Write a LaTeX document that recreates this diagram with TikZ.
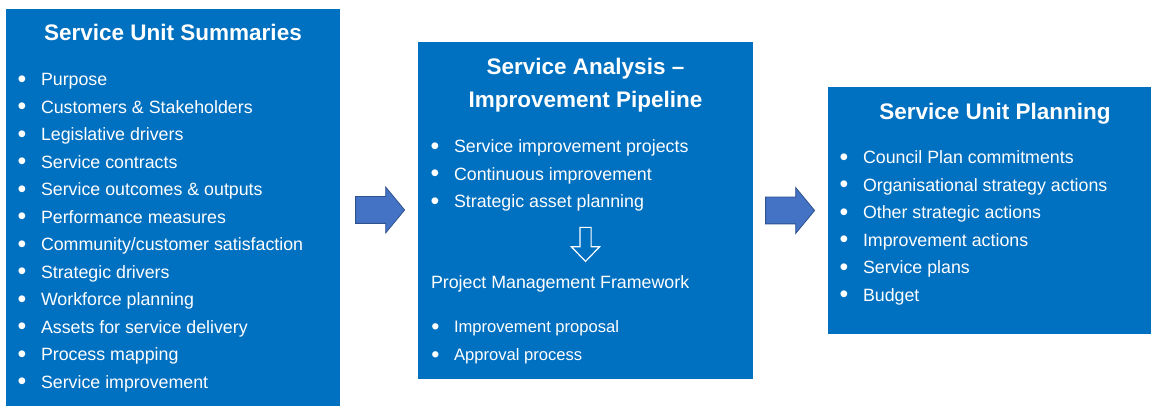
\documentclass[tikz,border=0pt]{standalone}
\usepackage{fontspec}
\setmainfont{Liberation Sans}
\usetikzlibrary{shapes.arrows,positioning}
\definecolor{panelblue}{HTML}{0070C0}
\definecolor{arrowblue}{HTML}{4472C4}
\definecolor{arrowedge}{HTML}{2F528F}
\tikzstyle{panel} = [fill=panelblue,rectangle,inner sep=0]
\tikzstyle{heading} = [text=white,font=\fontsize{22.5}{27}\selectfont\bfseries,inner sep=0,anchor=base]
\tikzstyle{entry} = [text=white,font=\fontsize{17.8}{21}\selectfont,inner sep=0,anchor=base west]
\tikzstyle{subentry} = [entry,font=\fontsize{16.6}{20}\selectfont]
\tikzstyle{flow} = [single arrow,fill=arrowblue,draw=arrowedge,line width=0.8pt,inner sep=0,text height=26pt,text depth=0pt,minimum height=49pt,single arrow head extend=9.5pt,single arrow tip angle=101,anchor=tail]
\tikzstyle{hollow} = [single arrow,draw=white,line width=1.2pt,inner sep=0,text width=10pt,text height=0pt,text depth=0pt,minimum height=34pt,single arrow head extend=8.5pt,single arrow tip angle=88,shape border rotate=270,anchor=tail]
\def \ls {27.5pt}
\def \bul {\llap{\raisebox{-1.7pt}{\scalebox{1.4}{\textbullet}}\hspace{14.6pt}}}

\begin{document}
\begin{tikzpicture}[x=1pt,y=1pt]
      \useasboundingbox[fill=white] (0,0) rectangle (1151,406);
      \node[panel,minimum width=334pt,minimum height=397pt] (b1) at (173,198.5) {};
      \node[panel,minimum width=335pt,minimum height=337pt] (b2) at (585.5,195.5) {};
      \node[panel,minimum width=323pt,minimum height=247pt] (b3) at (989.5,195.5) {};
      % left panel
      \node[heading] (h1) at ([yshift=-32pt]b1.north) {Service Unit Summaries};
      \node[entry] (s1) at ([xshift=35pt,yshift=-77pt]b1.north west) {\bul Purpose};
      \node[entry] (s2) at ([yshift=-\ls]s1.base west) {\bul Customers \& Stakeholders};
      \node[entry] (s3) at ([yshift=-\ls]s2.base west) {\bul Legislative drivers};
      \node[entry] (s4) at ([yshift=-\ls]s3.base west) {\bul Service contracts};
      \node[entry] (s5) at ([yshift=-\ls]s4.base west) {\bul Service outcomes \& outputs};
      \node[entry] (s6) at ([yshift=-\ls]s5.base west) {\bul Performance measures};
      \node[entry] (s7) at ([yshift=-\ls]s6.base west) {\bul Community/customer satisfaction};
      \node[entry] (s8) at ([yshift=-\ls]s7.base west) {\bul Strategic drivers};
      \node[entry] (s9) at ([yshift=-\ls]s8.base west) {\bul Workforce planning};
      \node[entry] (s10) at ([yshift=-\ls]s9.base west) {\bul Assets for service delivery};
      \node[entry] (s11) at ([yshift=-\ls]s10.base west) {\bul Process mapping};
      \node[entry] (s12) at ([yshift=-\ls]s11.base west) {\bul Service improvement};
      % middle panel
      \node[heading] (h2) at ([yshift=-33pt]b2.north) {Service Analysis --};
      \node[heading] (h2b) at ([yshift=-33pt]h2.base) {Improvement Pipeline};
      \node[entry] (p1) at ([xshift=36pt,yshift=-111pt]b2.north west) {\bul Service improvement projects};
      \node[entry] (p2) at ([yshift=-\ls]p1.base west) {\bul Continuous improvement};
      \node[entry] (p3) at ([yshift=-\ls]p2.base west) {\bul Strategic asset planning};
      \node[hollow] (dn) at ([yshift=-185pt]b2.north) {};
      \node[entry] (pm) at ([xshift=13pt,yshift=-247pt]b2.north west) {Project Management Framework};
      \node[subentry] (q1) at ([xshift=23pt,yshift=-44pt]pm.base west) {\bul Improvement proposal};
      \node[subentry] (q2) at ([yshift=-28pt]q1.base west) {\bul Approval process};
      % right panel
      \node[heading] (h3) at ([xshift=5.5pt,yshift=-33pt]b3.north) {Service Unit Planning};
      \node[entry] (u1) at ([xshift=35pt,yshift=-77pt]b3.north west) {\bul Council Plan commitments};
      \node[entry] (u2) at ([yshift=-\ls]u1.base west) {\bul Organisational strategy actions};
      \node[entry] (u3) at ([yshift=-\ls]u2.base west) {\bul Other strategic actions};
      \node[entry] (u4) at ([yshift=-\ls]u3.base west) {\bul Improvement actions};
      \node[entry] (u5) at ([yshift=-\ls]u4.base west) {\bul Service plans};
      \node[entry] (u6) at ([yshift=-\ls]u5.base west) {\bul Budget};
      % arrows between panels
      \node[flow] (a1) at ([xshift=15pt,yshift=-2.5pt]b1.east) {};
      \node[flow] (a2) at ([xshift=12pt]b2.east) {};
    \end{tikzpicture}
\end{document}
